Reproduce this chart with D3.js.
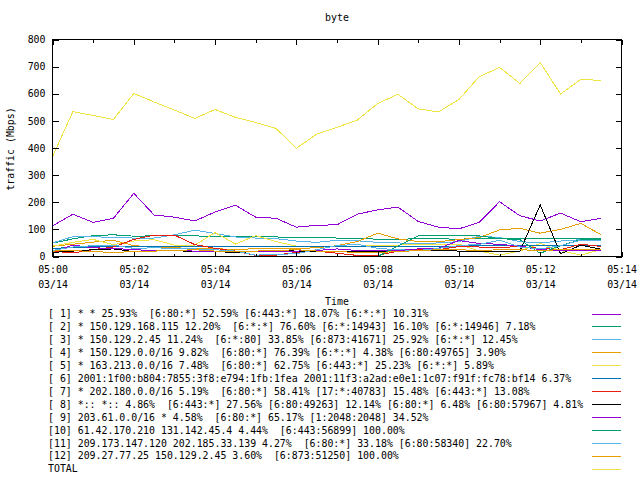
<!DOCTYPE html>
<html><head><meta charset="utf-8">
<script src="https://cdn.jsdelivr.net/npm/d3@7/dist/d3.min.js"></script>
<style>
html,body{margin:0;padding:0;background:#fff;}
svg{display:block;}
text{font-family:"DejaVu Sans Mono","Liberation Mono",monospace;font-size:9.9px;fill:#000;}
</style></head><body>
<svg id="chart" width="640" height="480"></svg>
<script>
const title = "byte";
const yLabel = "traffic (Mbps)";
const xLabel = "Time";
const times = ["05:00:00","05:00:30","05:01:00","05:01:30","05:02:00","05:02:30","05:03:00","05:03:30","05:04:00","05:04:30","05:05:00","05:05:30","05:06:00","05:06:30","05:07:00","05:07:30","05:08:00","05:08:30","05:09:00","05:09:30","05:10:00","05:10:30","05:11:00","05:11:30","05:12:00","05:12:30","05:13:00","05:13:30"];
const yTicks = [0,100,200,300,400,500,600,700,800];
const xTickLabels = ["05:00","05:02","05:04","05:06","05:08","05:10","05:12","05:14"];
const dateLabel = "03/14";

const s1  = [113,156,126,141,233,153,145,131,164,189,145,141,108,115,117,156,172,182,129,108,102,126,202,150,131,160,128,141];
const s2  = [49,65,77,80,75,76,76,76,74,74,73,72,71,71,68,66,64,63,66,65,64,66,66,66,65,65,67,67];
const s3  = [50,73,73,70,68,68,80,97,85,72,68,66,57,52,60,58,52,50,48,50,55,75,70,55,50,57,62,62];
const s4  = [38,45,53,60,40,35,32,30,28,27,28,30,30,32,40,55,86,65,55,55,62,70,98,104,86,100,122,80];
const s5  = [38,52,63,44,57,62,42,42,88,46,77,55,38,35,38,38,40,42,45,46,46,20,5,20,48,22,5,26];
const s6  = [30,33,36,37,37,38,38,38,38,38,38,38,38,38,38,38,38,38,38,38,38,40,40,40,42,42,40,40];
const s7  = [20,13,25,35,63,79,79,44,30,20,4,5,15,20,12,4,4,20,25,25,37,35,33,37,30,25,45,37];
const s8  = [15,20,25,28,18,20,22,18,18,15,18,22,20,18,18,20,20,18,22,22,20,18,20,20,190,10,42,27];
const s9  = [18,42,32,30,25,22,22,20,20,18,18,18,20,22,28,22,22,22,28,30,59,48,45,38,25,22,22,22];
const s10 = [0,0,0,0,0,0,0,0,0,0,0,0,0,0,0,0,0,38,76,76,76,76,66,62,12,40,62,64];
const s11 = [22,35,40,42,30,32,30,28,25,20,5,8,10,25,40,45,30,25,22,30,40,45,60,35,28,40,60,60];
const s12 = [20,22,18,15,18,20,22,25,20,18,20,22,25,20,18,15,15,18,22,25,25,22,25,25,22,25,25,25];
const total = [368,534,520,505,601,570,540,509,542,513,494,472,399,451,476,503,564,598,544,533,579,663,697,638,715,599,653,649];

const legendLabels = [
"[ 1] * * 25.93%  [6:80:*] 52.59% [6:443:*] 18.07% [6:*:*] 10.31%",
"[ 2] * 150.129.168.115 12.20%  [6:*:*] 76.60% [6:*:14943] 16.10% [6:*:14946] 7.18%",
"[ 3] * 150.129.2.45 11.24%  [6:*:80] 33.85% [6:873:41671] 25.92% [6:*:*] 12.45%",
"[ 4] * 150.129.0.0/16 9.82%  [6:80:*] 76.39% [6:*:*] 4.38% [6:80:49765] 3.90%",
"[ 5] * 163.213.0.0/16 7.48%  [6:80:*] 62.75% [6:443:*] 25.23% [6:*:*] 5.89%",
"[ 6] 2001:1f00:b804:7855:3f8:e794:1fb:1fea 2001:11f3:a2ad:e0e1:1c07:f91f:fc78:bf14 6.37%",
"[ 7] * 202.180.0.0/16 5.19%  [6:80:*] 58.41% [17:*:40783] 15.48% [6:443:*] 13.08%",
"[ 8] *:: *:: 4.86%  [6:443:*] 27.56% [6:80:49263] 12.14% [6:80:*] 6.48% [6:80:57967] 4.81%",
"[ 9] 203.61.0.0/16 * 4.58%  [6:80:*] 65.17% [1:2048:2048] 34.52%",
"[10] 61.42.170.210 131.142.45.4 4.44%  [6:443:56899] 100.00%",
"[11] 209.173.147.120 202.185.33.139 4.27%  [6:80:*] 33.18% [6:80:58340] 22.70%",
"[12] 209.27.77.25 150.129.2.45 3.60%  [6:873:51250] 100.00%",
"TOTAL"
];
const colors = ["#9400d3","#009e73","#56b4e9","#e69f00","#f0e442","#0072b2","#e51e10","#000000","#9400d3","#009e73","#56b4e9","#e69f00","#f0e442"];
const seriesData = [s1,s2,s3,s4,s5,s6,s7,s8,s9,s10,s11,s12,total];

const parse = d3.utcParse("%H:%M:%S");
const dates = times.map(parse);
const svg = d3.select("#chart");

const L = 52.5, R = 621.5, T = 39.5, B = 256.5;
const x = d3.scaleUtc().domain([parse("05:00:00"), parse("05:14:00")]).range([L, R]);
const y = d3.scaleLinear().domain([0, 800]).range([B, T]);

svg.append("text").attr("x", (L+R)/2).attr("y", 21).attr("text-anchor","middle").text(title);
svg.append("text").attr("transform","translate(14,149) rotate(-90)").attr("text-anchor","middle").text(yLabel);
svg.append("text").attr("x", (L+R)/2).attr("y", 305).attr("text-anchor","middle").text(xLabel);

const minuteTicks = d3.range(0, 15).map(m => parse("05:" + String(m).padStart(2,"0") + ":00"));
const majorTicks = xTickLabels.map(s => parse(s + ":00"));

const line = d3.line().x((d,i) => x(dates[i])).y(d => y(d));
const g = svg.append("g");
seriesData.forEach((s, k) => {
  g.append("path").datum(s).attr("d", line).attr("fill","none")
    .attr("stroke", colors[k]).attr("stroke-width",1).attr("shape-rendering","crispEdges");
});

const gx = svg.append("g").attr("transform",`translate(0,${B})`)
  .call(d3.axisBottom(x).tickValues(minuteTicks).tickSize(-3).tickFormat(""));
const gx2 = svg.append("g").attr("transform",`translate(0,${B})`)
  .call(d3.axisBottom(x).tickValues(majorTicks).tickSize(-5).tickFormat(""));
gx2.selectAll(".tick").each(function(d, i){
  const t = d3.select(this).append("text").attr("fill","#000").attr("y", 16).attr("text-anchor","middle");
  t.append("tspan").attr("x",0).attr("dy",0).text(xTickLabels[i]);
  t.append("tspan").attr("x",0).attr("dy",15).text(dateLabel);
});
const gxt = svg.append("g").attr("transform",`translate(0,${T})`)
  .call(d3.axisTop(x).tickValues(minuteTicks).tickSize(-3).tickFormat(""));
const gxt2 = svg.append("g").attr("transform",`translate(0,${T})`)
  .call(d3.axisTop(x).tickValues(majorTicks).tickSize(-5).tickFormat(""));
const gy = svg.append("g").attr("transform",`translate(${L},0)`)
  .call(d3.axisLeft(y).tickValues(yTicks).tickSize(-6).tickPadding(7).tickFormat(d3.format("d")));
const gyr = svg.append("g").attr("transform",`translate(${R},0)`)
  .call(d3.axisRight(y).tickValues(yTicks).tickSize(-6).tickFormat(""));
[gx,gx2,gxt,gxt2,gy,gyr].forEach(a => {
  a.select(".domain").remove();
  a.selectAll("text").style("font-family","DejaVu Sans Mono").style("font-size","9.9px");
  a.selectAll("line").attr("shape-rendering","crispEdges");
});
svg.append("rect").attr("x",L).attr("y",T).attr("width",R-L).attr("height",B-T)
  .attr("fill","none").attr("stroke","#000").attr("shape-rendering","crispEdges");

const lg = svg.append("g");
legendLabels.forEach((lab, k) => {
  const cy = 313.5 + 12.95*k;
  lg.append("text").attr("x",48).attr("y",cy+3.5).attr("xml:space","preserve").style("white-space","pre").text(lab);
  lg.append("line").attr("x1",592).attr("x2",621).attr("y1",Math.round(cy)+0.5).attr("y2",Math.round(cy)+0.5)
    .attr("stroke",colors[k]).attr("shape-rendering","crispEdges");
});
</script>
</body></html>
